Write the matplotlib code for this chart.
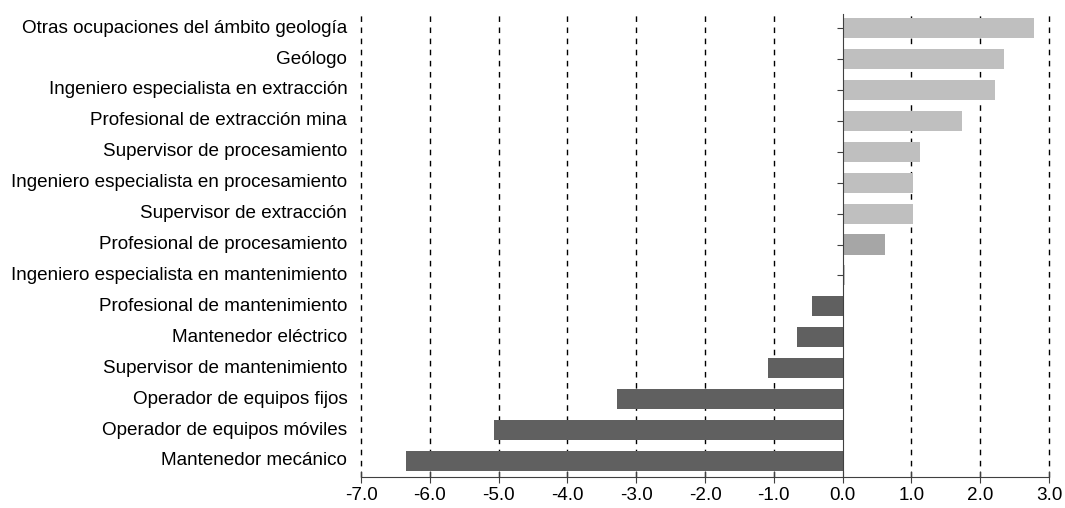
import matplotlib.pyplot as plt
from matplotlib.transforms import blended_transform_factory

plt.rcParams['font.family'] = ['Liberation Sans', 'DejaVu Sans']

# categories top to bottom
ocupaciones = [
    "Otras ocupaciones del ámbito geología",
    "Geólogo",
    "Ingeniero especialista en extracción",
    "Profesional de extracción mina",
    "Supervisor de procesamiento",
    "Ingeniero especialista en procesamiento",
    "Supervisor de extracción",
    "Profesional de procesamiento",
    "Ingeniero especialista en mantenimiento",
    "Profesional de mantenimiento",
    "Mantenedor eléctrico",
    "Supervisor de mantenimiento",
    "Operador de equipos fijos",
    "Operador de equipos móviles",
    "Mantenedor mecánico",
]
valores = [2.78, 2.35, 2.21, 1.73, 1.13, 1.03, 1.03, 0.61, 0.04,
           -0.45, -0.67, -1.08, -3.28, -5.07, -6.34]
ticks = [-7.0, -6.0, -5.0, -4.0, -3.0, -2.0, -1.0, 0.0, 1.0, 2.0, 3.0]

colores = []
for i, v in enumerate(valores):
    if v < 0:
        colores.append("#606060")
    elif ocupaciones[i] == "Profesional de procesamiento":
        colores.append("#A6A6A6")
    else:
        colores.append("#BFBFBF")

fs = 13.6

fig = plt.figure(figsize=(10.65, 5.08), dpi=100)
ax = fig.add_axes([0.339, 0.061, 0.646, 0.911])

y = list(range(len(ocupaciones)))
ax.barh(y, valores, height=0.65, color=colores, zorder=3)

for t in ticks:
    if t != 0:
        ax.axvline(t, color="black", linestyle=(0, (4, 4)), linewidth=1,
                   zorder=1, clip_on=False)

ax.set_xlim(-7, 3)
ax.set_ylim(len(ocupaciones) - 0.48, -0.45)
ax.set_xticks(ticks)
ax.set_xticklabels([f"{t:.1f}" for t in ticks], fontsize=fs)
ax.set_yticks(y)
ax.set_yticklabels([])

# y axis drawn at zero, labels on the left of the plot area
ax.spines["left"].set_position(("data", 0))
ax.spines["left"].set_color("#404040")
ax.spines["left"].set_zorder(4)
ax.spines["top"].set_visible(False)
ax.spines["right"].set_visible(False)
ax.spines["bottom"].set_color("#404040")
ax.tick_params(axis="y", length=4, color="#404040")
ax.tick_params(axis="x", direction="inout", length=8, color="#404040", pad=3)

tr = blended_transform_factory(ax.transAxes, ax.transData)
for yi, name in zip(y, ocupaciones):
    ax.text(-0.02, yi, name, transform=tr, ha="right", va="center", fontsize=fs)

fig.savefig("out.png", dpi=100)
